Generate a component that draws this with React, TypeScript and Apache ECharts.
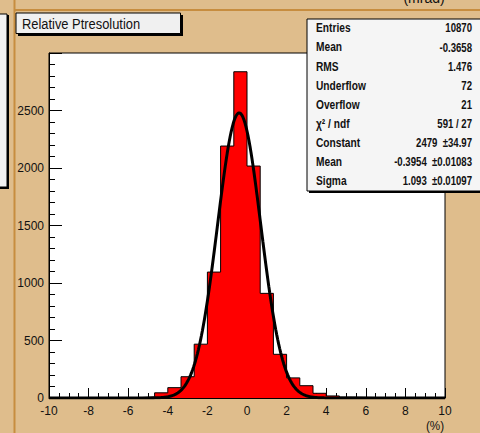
import React, { useEffect, useRef } from "react";
import * as echarts from "echarts";

// Histogram binning
const X_MIN = -10;
const X_MAX = 10;
const N_BINS = 30;

// Entries per bin, from x = -10 upwards (bin width 2/3)
const BIN_COUNTS = [
  0, 1, 0, 2, 2, 3, 4, 10, 45, 90,
  185, 468, 1095, 2191, 2837, 2017, 910, 380, 175, 107,
  41, 18, 8, 6, 4, 3, 2, 1, 1, 0,
];

// Gaussian fit parameters
const FIT_CONSTANT = 2479;
const FIT_MEAN = -0.3954;
const FIT_SIGMA = 1.093;

// Statistics box rows: label and value
const STAT_LABELS = ["Entries", "Mean", "RMS", "Underflow", "Overflow", "χ² / ndf", "Constant", "Mean", "Sigma"];
const STAT_VALUES = ["10870", "-0.3658", "1.476", "72", "21", "591 / 27", "2479  ±34.97", "-0.3954  ±0.01083", "1.093  ±0.01097"];

const TITLE = "Relative Ptresolution";
const X_UNIT = "(%)";
const TOP_UNIT = "(mrad)";

const Y_MAX = 3000;
const Y_STEP = 500;
const X_STEP = 2;

const TAN = "#dfbd8c";
const LINE_TAN = "#c78d3f";
const FONT = "Liberation Sans";

function histogramOutline(): number[][] {
  const w = (X_MAX - X_MIN) / N_BINS;
  const pts: number[][] = [[X_MIN, 0]];
  BIN_COUNTS.forEach((c, i) => {
    const lo = X_MIN + i * w;
    pts.push([lo, c], [lo + w, c]);
  });
  pts.push([X_MAX, 0]);
  return pts;
}

function fitCurve(): number[][] {
  const pts: number[][] = [];
  const n = 400;
  for (let i = 0; i <= n; i++) {
    const x = X_MIN + ((X_MAX - X_MIN) * i) / n;
    const z = (x - FIT_MEAN) / FIT_SIGMA;
    pts.push([x, FIT_CONSTANT * Math.exp(-0.5 * z * z)]);
  }
  return pts;
}

function narrowText(x: number, y: number, text: string, size: number, align: string, sx: number, weight = "normal") {
  return {
    type: "text",
    x,
    y,
    scaleX: sx,
    z: 20,
    style: {
      text,
      fill: "#111",
      font: `${weight} ${size}px "${FONT}"`,
      textAlign: align,
      textVerticalAlign: "middle",
    },
  };
}

export default function App() {
  const ref = useRef<HTMLDivElement>(null);

  useEffect(() => {
    if (!ref.current) return;
    const chart = echarts.init(ref.current, undefined, { renderer: "svg" });

    const statRowY = (i: number) => 28 + i * 19.1;
    const statsGraphics: any[] = [];
    STAT_LABELS.forEach((t, i) => {
      statsGraphics.push(narrowText(316, statRowY(i), t, 12, "left", 0.85, "bold"));
    });
    STAT_VALUES.forEach((t, i) => {
      statsGraphics.push(narrowText(472, statRowY(i), t, 12, "right", 0.8, "bold"));
    });

    chart.setOption({
      animation: false,
      backgroundColor: TAN,
      grid: {
        left: 49,
        right: 35,
        top: 53,
        bottom: 35,
        containLabel: false,
        outerBoundsMode: "none",
        show: true,
        backgroundColor: "#fff",
        borderColor: "#000",
        borderWidth: 1,
      },
      xAxis: {
        type: "value",
        min: X_MIN,
        max: X_MAX,
        interval: X_STEP,
        axisLine: { show: true, onZero: false, lineStyle: { color: "#000", width: 1 } },
        axisTick: { show: true, inside: true, length: 10, lineStyle: { color: "#000" } },
        minorTick: { show: true, splitNumber: 4, length: 5, lineStyle: { color: "#000" } },
        splitLine: { show: false },
        axisLabel: { color: "#111", fontSize: 12, fontFamily: FONT, margin: 7, formatter: (v: number) => String(v) },
      },
      yAxis: {
        type: "value",
        min: 0,
        max: Y_MAX,
        interval: Y_STEP,
        axisLine: { show: true, onZero: false, lineStyle: { color: "#000", width: 1 } },
        axisTick: { show: true, inside: true, length: 13, lineStyle: { color: "#000" } },
        minorTick: { show: true, splitNumber: 5, length: 6, lineStyle: { color: "#000" } },
        splitLine: { show: false },
        axisLabel: {
          color: "#111",
          fontSize: 12,
          fontFamily: FONT,
          margin: 5,
          showMaxLabel: false,
          formatter: (v: number) => String(v),
        },
      },
      series: [
        {
          type: "line",
          data: histogramOutline(),
          symbol: "none",
          lineStyle: { color: "#000", width: 1 },
          areaStyle: { color: "#ff0000", opacity: 1 },
          z: 2,
        },
        {
          type: "line",
          data: fitCurve(),
          symbol: "none",
          lineStyle: { color: "#000", width: 3 },
          z: 3,
        },
      ],
      graphic: [
        // pad edges
        { type: "line", z: 5, shape: { x1: 14.5, y1: 0, x2: 14.5, y2: 433 }, style: { stroke: LINE_TAN, lineWidth: 2 } },
        { type: "line", z: 5, shape: { x1: 15, y1: 10, x2: 480, y2: 10 }, style: { stroke: LINE_TAN, lineWidth: 2 } },
        // neighbouring pad box on the left
        { type: "rect", z: 6, shape: { x: -3, y: 14, width: 10, height: 173 }, style: { fill: "#f2f2f2", stroke: "#000", lineWidth: 1 } },
        { type: "rect", z: 6, shape: { x: 7, y: 15, width: 2, height: 174 }, style: { fill: "#000" } },
        { type: "rect", z: 6, shape: { x: -3, y: 187, width: 12, height: 2 }, style: { fill: "#000" } },
        // title box
        { type: "rect", z: 10, shape: { x: 18, y: 15, width: 165, height: 21 }, style: { fill: "#000" } },
        { type: "rect", z: 11, shape: { x: 16, y: 13, width: 164.5, height: 20.5 }, style: { fill: "#f0f0f0", stroke: "#000", lineWidth: 1 } },
        narrowText(22, 24, TITLE, 15, "left", 0.86),
        // statistics box
        { type: "rect", z: 10, shape: { x: 309, y: 21, width: 180, height: 172 }, style: { fill: "#000" } },
        { type: "rect", z: 11, shape: { x: 307, y: 19, width: 180, height: 172 }, style: { fill: "#f5f5f5", stroke: "#000", lineWidth: 1 } },
        ...statsGraphics,
        // units
        narrowText(435, 426, X_UNIT, 13, "center", 0.9),
        {
          type: "text",
          x: 424,
          y: 5,
          z: 20,
          style: { text: TOP_UNIT, fill: "#111", font: `14px "${FONT}"`, textAlign: "center", textVerticalAlign: "bottom" },
        },
      ],
    });

    return () => chart.dispose();
  }, []);

  return <div ref={ref} style={{ position: "absolute", left: 0, top: 0, width: 480, height: 433 }} />;
}
